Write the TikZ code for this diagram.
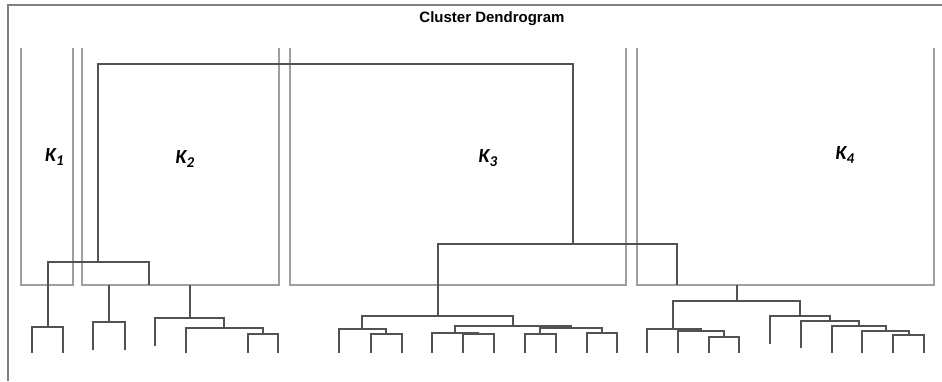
\documentclass[tikz,border=0pt]{standalone}
\usepackage{fontspec}
\setmainfont{Liberation Sans}
\newfontfamily\labelfont{Carlito}
\tikzset{
  frameline/.style={draw=black!50, line width=1.5pt},
  clusterbox/.style={draw=black!38, line width=1.4pt},
  branch/.style={draw=black!68, line width=1.1pt},
  clusterlabel/.style={font=\labelfont\bfseries\itshape\fontsize{20}{20}\selectfont, inner sep=0pt},
  plottitle/.style={font=\bfseries\fontsize{15}{16}\selectfont, inner sep=0pt}
}
% one merge of the tree: legs at x1 and x2, joined at height y,
% the legs ending at yl and yr
\newcommand\dlink[5]{\draw[branch] (#1,#4) -- (#1,#3) -- (#2,#3) -- (#2,#5);}
\newcommand\clab[2]{#1\raisebox{-0.35ex}{\fontsize{15}{15}\selectfont #2}}
\begin{document}
\begin{tikzpicture}[x=1pt,y=-1pt]
\useasboundingbox (0,0) rectangle (942,381);
% plot frame
\draw[frameline] (942,5) -- (8,5) -- (8,381);
\node[plottitle] (title) at (492,19) {Cluster Dendrogram};

% cluster boxes
\draw[clusterbox] (21,48) |- (73,285) -- (73,48);
\draw[clusterbox] (82,48) |- (279,285) -- (279,48);
\draw[clusterbox] (290,48) |- (626,285) -- (626,48);
\draw[clusterbox] (637,48) |- (934,285) -- (934,48);
\node[clusterlabel] (k1) at (54.5,157) {\clab{K}{1}};
\node[clusterlabel] (k2) at (185,159) {\clab{K}{2}};
\node[clusterlabel] (k3) at (488,158) {\clab{K}{3}};
\node[clusterlabel] (k4) at (845,155) {\clab{K}{4}};

% upper merges
\dlink{98}{573}{64}{262}{244}
\dlink{438}{677}{244}{316}{285}
\dlink{48}{149}{262}{327}{285}

% K1
\dlink{32}{63}{327}{353}{353}

% K2
\draw[branch] (109,285) -- (109,322);
\dlink{93}{125}{322}{350}{350}
\draw[branch] (190,285) -- (190,318);
\dlink{155}{224}{318}{346}{328}
\dlink{186}{263}{328}{353}{334}
\dlink{248}{278}{334}{353}{353}

% K3
\dlink{362}{513}{316}{329}{326}
\dlink{339}{386}{329}{353}{334}
\dlink{371}{402}{334}{353}{353}
\dlink{455}{571}{326}{333}{328}
\dlink{432}{478}{333}{353}{334}
\dlink{463}{494}{334}{353}{353}
\dlink{540}{602}{328}{334}{333}
\dlink{525}{556}{334}{353}{353}
\dlink{587}{617}{333}{353}{353}

% K4
\draw[branch] (737,285) -- (737,301);
\dlink{673}{800}{301}{329}{316}
\dlink{647}{701}{329}{353}{331}
\dlink{678}{724}{331}{353}{337}
\dlink{709}{739}{337}{353}{353}
\dlink{770}{830}{316}{344}{321}
\dlink{801}{859}{321}{348}{326}
\dlink{832}{886}{326}{353}{331}
\dlink{862}{909}{331}{353}{335}
\dlink{893}{924}{335}{353}{353}
\end{tikzpicture}
\end{document}
